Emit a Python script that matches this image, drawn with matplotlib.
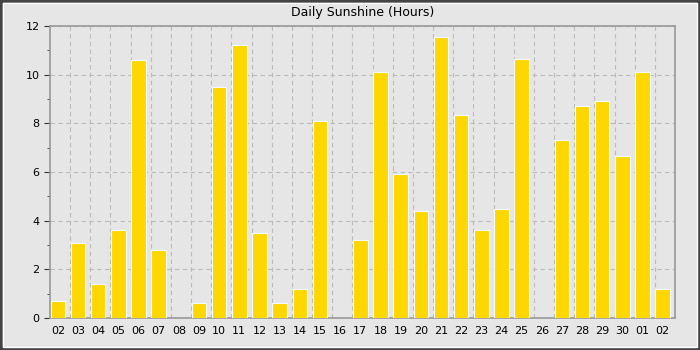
import matplotlib
matplotlib.use('Agg')
import matplotlib.pyplot as plt
from matplotlib.patches import Rectangle

days = ['02', '03', '04', '05', '06', '07', '08', '09', '10', '11', '12', '13', '14', '15', '16',
        '17', '18', '19', '20', '21', '22', '23', '24', '25', '26', '27', '28', '29', '30', '01', '02']
sunshine = [0.7, 3.1, 1.4, 3.6, 10.6, 2.8, 0, 0.6, 9.5, 11.2, 3.5, 0.6, 1.2, 8.1, 0,
            3.2, 10.1, 5.9, 4.4, 11.55, 8.35, 3.6, 4.5, 10.65, 0, 7.3, 8.7, 8.9, 6.65, 10.1, 1.2]

bg = '#e6e6e6'
fig = plt.figure(figsize=(7, 3.5), dpi=100, facecolor=bg)
ax = fig.add_axes([50/700, 32/350, 625/700, 292/350])
ax.set_facecolor(bg)

x = list(range(len(days)))
bw = 0.72
bars = ax.bar([i + 0.03 for i in x], sunshine, width=bw, align='edge', color='#ffd700',
              edgecolor='#f4faff', linewidth=0.8, zorder=3)
# no outline on empty days
for b in bars:
    if b.get_height() == 0:
        b.set_linewidth(0)

ax.set_xlim(0, len(days))
ax.set_ylim(0, 12)
ax.set_xticks([i + 0.03 + bw / 2 for i in x])
ax.set_xticklabels(days, fontsize=8)
ax.set_xticks(x[1:], minor=True)
ax.tick_params(axis='x', which='both', length=0, pad=6)
ax.set_yticks([0, 2, 4, 6, 8, 10, 12])
ax.set_yticks([1, 3, 5, 7, 9, 11], minor=True)
ax.tick_params(axis='y', which='major', length=4, labelsize=8, color='#333333')
ax.tick_params(axis='y', which='minor', length=2, color='#333333')
ax.grid(True, axis='y', which='major', linestyle=(0, (4, 3)), color='#bbbbbb', linewidth=0.8, zorder=0)
ax.grid(True, axis='x', which='minor', linestyle=(0, (4, 3)), color='#bbbbbb', linewidth=0.8, zorder=0)
for s in ax.spines.values():
    s.set_color('#999999')
    s.set_linewidth(1.2)

ax.set_title('Daily Sunshine (Hours)', fontsize=9, pad=7)

fig.patches.append(Rectangle((0, 0), 1, 1, transform=fig.transFigure, fill=False,
                             edgecolor='#444444', linewidth=4))
fig.patches.append(Rectangle((3/700, 3/350), 694/700, 344/350, transform=fig.transFigure,
                             fill=False, edgecolor='#ffffff', linewidth=1))

fig.savefig('out.png', dpi=100, facecolor=bg)
